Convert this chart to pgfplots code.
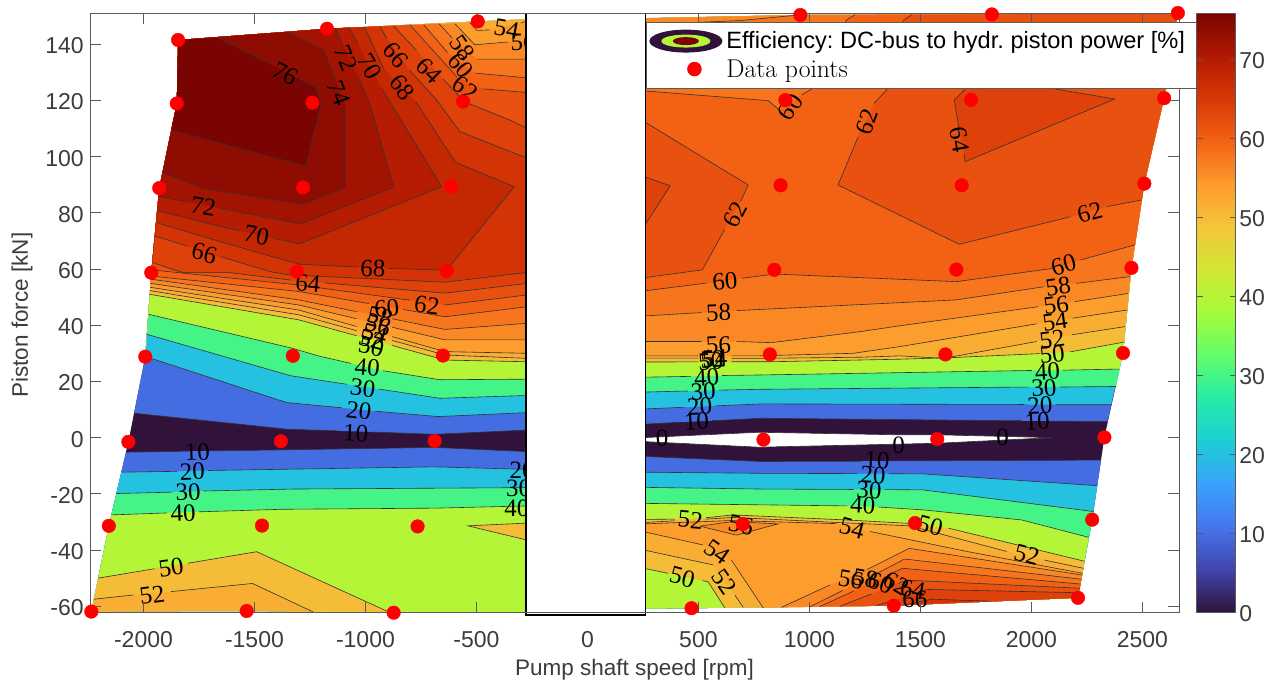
\documentclass[border=0pt]{standalone}
\usepackage{fontspec}
\setsansfont{Liberation Sans}
\newfontfamily\serf{Liberation Serif}
\usepackage{pgfplots}
\pgfplotsset{compat=1.18}
\definecolor{c0}{RGB}{48,18,59}
\definecolor{c10}{RGB}{69,109,226}
\definecolor{c20}{RGB}{37,193,225}
\definecolor{c30}{RGB}{68,244,135}
\definecolor{c40}{RGB}{181,245,56}
\definecolor{c50}{RGB}{245,189,55}
\definecolor{c52}{RGB}{249,173,50}
\definecolor{c54}{RGB}{253,157,46}
\definecolor{c56}{RGB}{250,137,37}
\definecolor{c58}{RGB}{246,117,29}
\definecolor{c60}{RGB}{242,97,20}
\definecolor{c62}{RGB}{232,81,15}
\definecolor{c64}{RGB}{222,65,9}
\definecolor{c66}{RGB}{211,51,5}
\definecolor{c68}{RGB}{196,40,3}
\definecolor{c70}{RGB}{181,28,2}
\definecolor{c72}{RGB}{162,19,1}
\definecolor{c74}{RGB}{142,12,2}
\definecolor{c76}{RGB}{122,4,2}
\definecolor{axgray}{RGB}{90,90,90}
\definecolor{txgray}{RGB}{60,60,60}
\def\NN{(0,nan)}
\pgfplotsset{ctr/.style={draw=black!80,line width=0.6pt,sharp plot,unbounded coords=jump,forget plot}}
% polygon = line one, middle, line two, end; only the lines get a stroke
\newcommand\ZF[6]{\edef\tmpa{\noexpand\addplot[fill=#1,draw=none,forget plot] coordinates {#2 #3 #4 #5};}\tmpa}
\newcommand\ZL[6]{\edef\tmpa{\noexpand\addplot[ctr] coordinates {#2};}\tmpa
  \if\relax\detokenize{#4}\relax\else\edef\tmpa{\noexpand\addplot[ctr] coordinates {#4};}\tmpa\fi}
% tails
\def\LT{(-270,148.9)(-494,148.1)(-1173,145.5)(-1844,141.5)(-1850,118.9)(-1929,88.8)(-1965,58.7)(-1992,28.8)}
\def\LS{(-1173,145.5)(-1844,141.5)(-1850,118.9)(-1929,88.8)(-1965,58.7)}
\def\LB{(-270,-62.2)(-873,-62.3)(-1535,-61.7)(-2235,-61.9)(-2156,-31.4)}
\def\RT{(2413,30.1)(2451,60.4)(2509,90.4)(2598,120.8)(2660,151.1)(1822,150.6)(959,150.4)(255,149.2)}
\def\RU{(2451,60.4)(2509,90.4)(2598,120.8)(2660,151.1)(1822,150.6)(959,150.4)(255,149.2)}
\def\RL{(2274,-29.2)(2210,-57)(1380,-59.8)(469,-60.7)(255,-60.9)}
\def\RM{(2210,-57)(1380,-59.8)}
\newcommand\AllBands{%
% left, upper part
\Z{c10}{(-2042,8.7)(-1352,3)(-1120,2.4)\NN(-970,2)(-688,1.2)(-270,2.7)}{\LT}{}{}{}%
\Z{c20}{(-1992,28.9)(-1356,12.5)(-1105,10.6)\NN(-955,9.4)(-673,7.5)(-270,8.9)}{\LT}{}{}{}%
\Z{c30}{(-1986,36.8)(-1336,22)(-1085,19)\NN(-940,17.3)(-665,14)(-270,15)}{\LT}{}{}{}%
\Z{c40}{(-1977,43.9)(-1329,31.8)(-1213,29.1)(-1065,26.4)\NN(-920,23.8)(-665,20.6)(-270,20.8)}{\LT}{}{}{}%
\Z{c50}{(-1972,51)(-1300,41.9)(-1040,36.25)\NN(-880,32.8)(-642,27.6)(-270,27)}{\LT}{}{}{}%
\Z{c52}{(-1971,52.3)(-1300,43.7)(-1040,38.05)\NN(-880,34.6)(-642,29.4)(-270,28.2)}{\LT}{}{}{}%
\Z{c54}{(-1970,53.5)(-1300,45.4)(-1040,39.55)\NN(-880,35.95)(-642,30.6)(-270,30)}{}{(-270,148.4)(-300,147.5)\NN(-439,145.1)(-498,144.9)(-530,147.7)}{\LS}{}%
\Z{c56}{(-1969,54.9)(-1300,47.2)(-1040,42.3)\NN(-880,39.3)(-642,34.8)(-270,34.8)}{}{(-270,141)\NN(-358,140.8)(-507,139.8)(-597,147.3)}{\LS}{}%
\Z{c58}{(-1968,56.4)(-1300,49)(-1040,44.85)\NN(-880,42.3)(-642,38.5)(-270,40.7)}{}{(-270,134.7)(-498,134.7)\NN(-610,142.3)(-669,147.3)}{\LS}{}%
\Z{c60}{(-1966,57.5)(-1300,52)(-985,47.7)\NN(-830,45.6)(-642,43)(-270,46.6)}{}{(-270,128)(-503,129.7)\NN(-630,137)(-737,146.9)}{\LS}{}%
\Z{c62}{(-1965,59.7)(-1300,54.3)(-798,48.9)\NN(-648,47.3)(-642,47.2)(-270,50.8)}{}{(-270,122.8)(-471,124.1)\NN(-588,128.4)(-800,146.9)}{\LS}{}%
\Z{c64}{(-1960,62.3)(-1822,58.7)(-1611,58.7)(-1341,56.1)(-1334,56.05)\NN(-1184,55.05)(-642,51.4)(-270,54.9)}{}{(-270,110)(-349,113)(-522,118.5)(-560,120)(-650,127.6)\NN(-770,137.8)(-873,146.5)}{\LS}{}%
\Z{c66}{(-1950,71.8)(-1800,68.07)\NN(-1653,64.4)(-1431,59.1)(-1341,57.9)(-642,55.3)(-270,58.8)}{}{(-270,99.4)(-575,108.9)(-680,120.2)(-800,130.6)\NN(-905,142.2)(-935,146.3)}{\LS}{}%
\Z{c68}{(-1940,76.5)(-1653,69.7)(-1421,64.4)(-1297,61.7)(-1036,60.7)\NN(-896,60.2)(-634,59.6)(-330,89.3)(-595,98)(-773,119.6)\NN(-919,131.5)(-1004,146.1)}{}{}{\LS}{}%
\Z{c70}{(-1938,80.8)(-1652,75.1)(-1565,73.6)\NN(-1415,71)(-1297,68.9)(-657,89.3)(-927,124.3)\NN(-1034,140)(-1074,146)}{}{}{\LS}{}%
\Z{c72}{(-1933,85.8)(-1805,83.9)\NN(-1655,81.6)(-1652,81.6)(-1293,76)(-873,89.1)(-981,119)(-1035,128.5)\NN(-1108,141)(-1135,145.7)}{}{}{\LS}{}%
\Z{c74}{(-1915,94.4)(-1730,88.7)(-1282,83)(-1089,89.1)(-1089,117.8)\NN(-1135,127.3)(-1189,138)(-1351,144.3)}{}{}{(-1844,141.5)(-1850,118.9)(-1929,88.8)}{}%
\Z{c76}{(-1875,109.5)(-1270,96.7)(-1199,119)(-1225,124.7)(-1300,127.7)\NN(-1430,132.9)(-1668,142.4)}{}{}{(-1844,141.5)(-1850,118.9)}{}%
% left, lower part
\Z{c10}{(-2079,-5.2)(-1830,-4.9)\NN(-1685,-4.7)(-1405,-4.4)(-688,-3.5)(-270,-5)}{\LB}{}{}{}%
\Z{c20}{(-2100,-12.3)(-1850,-12)\NN(-1710,-11.7)(-688,-10.4)(-270,-11.3)}{\LB}{}{}{}%
\Z{c30}{(-2122,-19.9)(-1870,-19.4)\NN(-1730,-19)(-1328,-18.3)(-270,-17.8)}{\LB}{}{}{}%
\Z{c40}{(-2145,-27.5)(-1895,-26.8)\NN(-1750,-26.4)(-1375,-25.5)(-688,-25.1)(-270,-24.3)}{\LB}{}{}{}%
\Z{c50}{(-2204,-50)(-1950,-46.65)\NN(-1800,-44.7)(-1490,-40.6)(-896,-62)}{(-1535,-61.7)(-2235,-61.9)}{}{}{}%
\Z{c52}{(-2223,-57.5)(-2046,-56)\NN(-1876,-54.8)(-1509,-51.9)(-1236,-62)}{(-1535,-61.7)(-2235,-61.9)}{}{}{}%
\Z{c50}{(-270,-30.4)(-538,-31.4)(-270,-36.5)}{}{}{}{}%
% right, upper part
\Z{c10}{(255,4.8)(421,5.5)\NN(561,6)(782,6.9)(1956,6)\NN(2096,5.9)(2343,5.7)}{\RT}{}{}{}%
\Z{c20}{(255,10.2)(436,10.8)\NN(576,11.3)(782,12)(1969,11.8)\NN(2109,11.7)(2358,11.7)}{\RT}{}{}{}%
\Z{c30}{(255,16.2)(452,16.6)\NN(592,16.9)(782,17.2)(1987,18)\NN(2127,18)(2382,18.2)}{\RT}{}{}{}%
\Z{c40}{(255,21.5)(467,21.8)\NN(607,22.1)(782,22.3)(2002,23.9)\NN(2142,24)(2397,24.4)}{\RT}{}{}{}%
\Z{c50}{(255,26.9)(500,26.95)\NN(650,27)(825,27)(1408,27.9)(1649,28.5)(2040,29.9)\NN(2174,30.5)(2418,34)}{\RU}{}{}{}%
\Z{c52}{(255,28.3)(500,28.3)\NN(650,28.2)(769,28.2)(1230,28.6)(1408,29.1)(1604,28.2)(1716,29.8)(2024,34.2)\NN(2182,36.6)(2422,39.5)}{\RU}{}{}{}%
\Z{c54}{(255,29.1)(500,29.1)\NN(650,29.1)(769,29.1)(1197,30)(1408,32.4)(2024,40.5)\NN(2185,42.5)(2431,45.4)}{\RU}{}{}{}%
\Z{c56}{(255,34.2)(515,34.2)\NN(672,34.2)(830,33.8)(1228,37.7)(1408,39.8)(2032,46.6)\NN(2197,48.4)(2436,51.3)}{\RU}{}{}{}%
\Z{c58}{(255,43.3)(515,44.5)\NN(672,45.2)(1660,49)(2058,53.7)\NN(2203,54.9)(2444,57.3)}{(2451,60.4)(2509,90.4)(2598,120.8)(2660,151.1)(1822,150.6)(959,150.4)}{(940,150.3)(687,148.4)(255,147)}{}{}%
\Z{c60}{(255,52.2)(537,55)\NN(695,56.7)(845,58.2)(1662,55.5)(2094,60.2)\NN(2221,63.2)(2467,68.6)}{(2509,90.4)(2598,120.8)(2660,151.1)(1822,150.6)}{(1206,150.5)(1168,148.7)(1010,124)(965,122)\NN(864,116.6)(815,119.9)(255,123.4)}{}{}%
\Z{c62}{(2498,84.6)(2340,82.2)\NN(2176,78.6)(1675,68.8)(1129,89.9)(1220,107.1)\NN(1292,119)(1347,123.7)(1423,148.4)(1461,150.5)}{(1822,150.6)(2660,151.1)(2598,120.8)(2509,90.4)}{}{}{}%
\Z{c62}{(255,56.9)(518,59.7)(618,74)\NN(690,84)(724,89.9)(255,112.5)}{}{}{}{}%
\Z{c64}{(255,92.9)(373,89.6)(255,75.1)}{}{}{}{}%
\Z{c64}{(1702,124)(1653,120.2)(1675,109.5)\NN(1697,101)(1702,98.2)(2376,120.5)(2112,124)(1900,140)}{}{}{}{}%
% right, lower part
\Z{c10}{(255,-6.7)(782,-8.5)(1235,-8.4)\NN(1375,-8.3)(2314,-8)}{\RL}{}{}{}%
\Z{c20}{(255,-12.3)(782,-12.7)(1217,-12.8)\NN(1357,-12.85)(1511,-12.9)(2297,-17.1)}{\RL}{}{}{}%
\Z{c30}{(255,-17.7)(782,-18.3)(1199,-18.45)\NN(1339,-18.5)(1511,-18.6)(2280,-26.3)}{\RL}{}{}{}%
\Z{c40}{(255,-23.4)(1171,-24.3)\NN(1311,-24.7)(1511,-25.7)(1957,-29.3)(2259,-35.5)}{(2210,-57)(1380,-59.8)(469,-60.7)(255,-60.9)}{}{}{}%
\Z{c50}{(255,-29.1)(394,-29)\NN(534,-28.5)(657,-27.5)(1167,-29.3)(1446,-30.5)(1470,-30.7)\NN(1626,-32.2)(2240,-44)}{\RM}{(619,-60.6)(544,-51.3)(519,-50.9)\NN(364,-48.3)(255,-46.5)}{}{}%
\Z{c52}{(255,-30.2)(394,-29.6)\NN(534,-29)(657,-28.4)(1152,-30.3)(1453,-31.4)(1889,-40.5)\NN(2060,-43.6)(2235,-46.5)}{\RM}{(702,-60.4)(664,-56)\NN(566,-45.3)(255,-40)}{}{}%
\Z{c54}{(255,-30.7)(650,-29.5)(1120,-30.6)\NN(1273,-33.4)(1709,-40.5)(2231,-48.3)}{\RM}{(792,-60.6)(649,-43.6)\NN(521,-38.2)(255,-33.5)}{}{}%
\Z{c56}{(506,-31.5)(672,-34.7)(859,-30.7)(650,-29.9)(506,-31.5)}{}{}{}{}%
\Z{c56}{(874,-60.4)(1093,-52.4)\NN(1258,-47)(1450,-39.4)(2229,-48.9)}{\RM}{}{}{}%
\Z{c58}{(1002,-60.2)(1150,-54.4)\NN(1300,-48.5)(1429,-43.2)(2226,-50.4)}{\RM}{}{}{}%
\Z{c60}{(1047,-60.1)(1200,-54.6)\NN(1350,-49)(1420,-46.5)(2222,-52.1)}{\RM}{}{}{}%
\Z{c62}{(1138,-60)(1280,-55.6)\NN(1400,-51.9)(1438,-50.7)(2218,-53.6)}{\RM}{}{}{}%
\Z{c64}{(1300,-59.8)(1380,-57.8)\NN(1520,-54)(2215,-55.2)}{\RM}{}{}{}%
\Z{c66}{(1420,-59.6)(1551,-57.5)(1814,-58.2)}{}{}{}{}%
% the zero contour round the region with no value
\Z{white}{(255,0)(773,1.9)(1402,1)(1577,1)(2094,0)(1577,-2)(773,-3.4)(255,-1.4)}{}{}{}{}%
}
\newcommand\lab[4]{\node[rotate=#3,inner sep=0pt,text=black,font=\serf\fontsize{25}{25}\selectfont] at (axis cs:#1,#2) {#4};}
\begin{document}
\begin{tikzpicture}
\useasboundingbox (-90.2pt,-71.3pt) rectangle (1183.8pt,612.7pt);
\begin{axis}[
  at={(0pt,0pt)},anchor=south west,
  scale only axis,width=1088.8pt,height=599.4pt,
  xmin=-2240,xmax=2665,ymin=-62.3,ymax=151,
  clip=false,axis on top,
  axis line style={draw=axgray,line width=0.9pt},
  tick style={draw=axgray,line width=0.9pt},
  tick align=inside,major tick length=11pt,
  xtick={-2000,-1500,-1000,-500,500,1000,1500,2000,2500},
  xticklabels={-2000,-1500,-1000,-500,500,1000,1500,2000,2500},
  extra x ticks={0},extra x tick labels={0},
  extra x tick style={major tick length=0pt},
  ytick={-60,-40,-20,0,20,40,60,80,100,120,140},
  yticklabels={-60,-40,-20,0,20,40,60,80,100,120,140},
  tick label style={font=\sffamily\fontsize{23}{24}\selectfont,text=txgray},
  xticklabel style={yshift=-15pt},
  yticklabel style={xshift=-3pt,yshift=-1.5pt},
  xlabel={Pump shaft speed [rpm]},
  ylabel={Piston force [kN]},
  label style={font=\sffamily\fontsize{22.5}{24}\selectfont,text=txgray},
  xlabel style={at={(axis description cs:0.5,-0.0956)},anchor=center},
  ylabel style={at={(axis description cs:-0.0626,0.4965)},anchor=center},
  colormap={turbo}{rgb255=(48,18,59) rgb255=(65,69,171) rgb255=(70,117,237) rgb255=(57,162,252) rgb255=(27,207,212) rgb255=(36,236,166) rgb255=(97,252,108) rgb255=(164,252,59) rgb255=(209,232,52) rgb255=(243,198,58) rgb255=(254,155,45) rgb255=(243,99,21) rgb255=(217,56,6) rgb255=(177,25,1) rgb255=(122,4,2)},
  point meta min=0,point meta max=75.8,
  colorbar,
  colorbar/width=39.3pt,
  colorbar style={
    xshift=-10.5pt,
    ytick={0,10,20,30,40,50,60,70},yticklabels={0,10,20,30,40,50,60,70},
    tick align=inside,major tick length=6pt,
    axis line style={draw=axgray,line width=0.9pt},
    yticklabel style={font=\sffamily\fontsize{23}{24}\selectfont,text=txgray,xshift=0pt,yshift=-1pt},
  },
  legend style={at={(0.5105,0.986)},anchor=north west,draw=axgray,line width=0.9pt,fill=white,
    cells={anchor=west},inner xsep=3pt,inner ysep=7.5pt,row sep=5pt},
  legend cell align=left,
]
\addlegendimage{legend image code/.code={
  \fill[c0] (0pt,0pt) ellipse [x radius=36pt,y radius=11pt];
  \fill[c40] (0pt,0pt) ellipse [x radius=24pt,y radius=6pt];
  \fill[c76] (0pt,0pt) ellipse [x radius=12.5pt,y radius=3.5pt];}}
\addlegendentry{\sffamily\frenchspacing\fontsize{23.6}{24}\selectfont\hspace*{2pt}Efficiency: DC-bus to hydr. piston power [\%]\hspace*{8pt}}
% filled outline of the measured region
\addplot[fill=c0,draw=none,forget plot] coordinates {(-2235,-61.9)(-2156,-31.4)(-2068,-1.5)(-1992,28.8)(-1965,58.7)(-1929,88.8)(-1850,118.9)(-1844,141.5)(-1173,145.5)(-494,148.1)(959,150.4)(1822,150.6)(2660,151.1)(2598,120.8)(2509,90.4)(2451,60.4)(2413,30.1)(2329,0.1)(2274,-29.2)(2210,-57)(1380,-59.8)(469,-60.7)(-873,-62.3)(-1535,-61.7)};
\let\Z\ZF
\AllBands
\let\Z\ZL
\AllBands
% contour labels, left
\lab{-1362}{129.5}{-28}{76}\lab{-1120}{122.6}{-70}{74}\lab{-1730}{82.2}{-10}{72}\lab{-1089}{135}{-68}{72}
\lab{-1490}{72.1}{-12}{70}\lab{-981}{132}{-60}{70}\lab{-966}{60.2}{-2}{68}\lab{-834}{124.7}{-52}{68}
\lab{-1726}{65.6}{-15}{66}\lab{-862}{136.2}{-50}{66}\lab{-1259}{54.9}{-5}{64}\lab{-711}{130.6}{-45}{64}
\lab{-723}{47.2}{-8}{62}\lab{-549}{124.3}{-35}{62}\lab{-904}{46}{5}{60}\lab{-572}{132.4}{-50}{60}
\lab{-564}{138.6}{-55}{58}\lab{-364}{145.4}{-10}{54}\lab{-290}{140.5}{0}{56}
\lab{-935}{43}{-15}{58}\lab{-943}{40}{-15}{56}\lab{-958}{37}{-15}{54}\lab{-973}{34.8}{-15}{52}\lab{-973}{32.4}{-15}{50}
\lab{-992}{25}{-5}{40}\lab{-1012}{17.6}{-7}{30}\lab{-1030}{9.6}{-7}{20}\lab{-1043}{1.6}{-3}{10}
\lab{-1757}{-5.2}{2}{10}\lab{-1780}{-12.1}{2}{20}\lab{-1799}{-19.4}{2}{30}\lab{-1822}{-26.9}{2}{40}
\lab{-1876}{-46.2}{8}{50}\lab{-1961}{-56}{8}{52}
\lab{-294}{-11.5}{0}{20}\lab{-310}{-18}{0}{30}\lab{-318}{-25.1}{0}{40}
% contour labels, right
\lab{914}{117.6}{55}{60}\lab{1260}{112.5}{70}{62}\lab{1675}{106}{-80}{64}\lab{664}{79.2}{62}{62}
\lab{2263}{80}{15}{62}\lab{619}{55.5}{5}{60}\lab{2145}{61.4}{15}{60}\lab{591}{44.5}{2}{58}
\lab{2121}{53.7}{8}{58}\lab{2112}{47.2}{8}{56}\lab{2107}{41.3}{8}{54}\lab{2094}{34.8}{8}{52}
\lab{2094}{29.8}{5}{50}\lab{2072}{23.5}{3}{40}\lab{2057}{17.6}{3}{30}\lab{2039}{11.4}{3}{20}\lab{2026}{5.7}{3}{10}
\lab{590}{33}{3}{56}\lab{573}{28.2}{3}{54}\lab{565}{27.7}{3}{52}\lab{555}{27}{3}{50}
\lab{537}{21.5}{3}{40}\lab{522}{16.4}{3}{30}\lab{506}{11}{3}{20}\lab{491}{5.7}{3}{10}
\lab{336}{-0.2}{0}{0}\lab{1402}{-2.6}{0}{0}\lab{1870}{0.1}{0}{0}
\lab{1305}{-7.9}{-3}{10}\lab{1287}{-13.3}{-3}{20}\lab{1269}{-18.6}{-3}{30}\lab{1241}{-24}{-3}{40}
\lab{464}{-29.3}{-5}{52}\lab{691}{-31.1}{-10}{56}\lab{1192}{-32.3}{-15}{54}\lab{1544}{-31.4}{-15}{50}
\lab{1979}{-41.8}{-15}{52}\lab{586}{-40.6}{-35}{54}\lab{615}{-51.3}{-55}{52}\lab{427}{-49.7}{-15}{50}
\lab{1187}{-50.4}{-10}{56}\lab{1252}{-50}{-10}{58}\lab{1320}{-51.8}{-20}{60}\lab{1393}{-51.9}{-30}{62}
\lab{1466}{-54.2}{-10}{64}\lab{1475}{-57.5}{0}{66}
% the white box over the speed range with no data
\fill[white,draw=black,line width=1.5pt] (axis cs:-277,151) rectangle (axis cs:261,-63.1);
\addplot[only marks,mark=*,mark size=6.8pt,mark options={fill=red,draw=none},color=red] coordinates {
(-1844,141.5)(-1173,145.5)(-494,148.1)(-1850,118.9)(-1239,119.2)(-560,119.6)
(-1929,88.8)(-1281,89)(-614,89.4)(-1965,58.7)(-1309,59.1)(-634,59.3)
(-1992,28.8)(-1327,29.1)(-651,29.2)(-2068,-1.5)(-1381,-1.3)(-688,-1.2)
(-2156,-31.4)(-1466,-31.3)(-765,-31.6)(-2235,-61.9)(-1535,-61.7)(-873,-62.3)
(959,150.4)(1822,150.6)(2660,151.1)(892,120.1)(1729,120.2)(2598,120.8)
(870,89.8)(1686,89.8)(2509,90.4)(842,59.7)(1662,59.8)(2451,60.4)
(822,29.6)(1613,29.6)(2413,30.1)(793,-0.7)(1576,-0.5)(2329,0.1)
(700,-30.8)(1476,-30.4)(2274,-29.2)(469,-60.7)(1380,-59.8)(2210,-57)};
\addlegendentry{\fontsize{25.7}{26}\selectfont\hspace*{2pt}Data points}
\end{axis}
\end{tikzpicture}
\end{document}
